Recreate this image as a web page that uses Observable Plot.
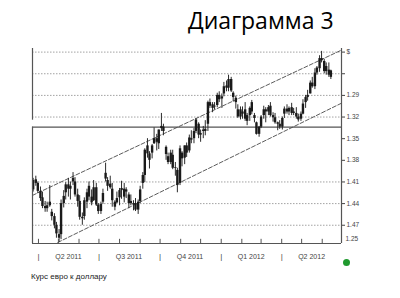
<!DOCTYPE html>
<html>
<head>
<meta charset="utf-8">
<script src="https://cdn.jsdelivr.net/npm/d3@7"></script>
<script src="https://cdn.jsdelivr.net/npm/@observablehq/plot@0.6"></script>
<style>
  html, body { margin: 0; padding: 0; background: #fff; }
  #wrap { width: 400px; height: 298px; overflow: hidden; }
  #title { height: 40px; line-height: 40px; padding-left: 188px; font-family: "Open Sans", sans-serif; font-size: 23px; color: #000; white-space: nowrap; }
  #chart svg { display: block; }
  #caption { height: 18px; line-height: 18px; padding-left: 31px; font-family: "Liberation Sans", Arial, sans-serif; font-size: 8px; color: #222; }
</style>
</head>
<body>
<div id="wrap">
  <div id="title">Диаграмма 3</div>
  <div id="chart"></div>
  <div id="caption">Курс евро к доллару</div>
</div>
<script>
// Bar dates (twice-weekly bars)
const dates = [
  "2011-03-24","2011-03-28","2011-03-31","2011-04-04","2011-04-07","2011-04-11","2011-04-14","2011-04-18","2011-04-21","2011-04-25",
  "2011-04-28","2011-05-02","2011-05-05","2011-05-09","2011-05-12","2011-05-16","2011-05-19","2011-05-23","2011-05-26","2011-05-30",
  "2011-06-02","2011-06-06","2011-06-09","2011-06-13","2011-06-16","2011-06-20","2011-06-23","2011-06-27","2011-06-30","2011-07-04",
  "2011-07-07","2011-07-11","2011-07-14","2011-07-18","2011-07-21","2011-07-25","2011-07-28","2011-08-01","2011-08-04","2011-08-08",
  "2011-08-11","2011-08-15","2011-08-18","2011-08-22","2011-08-25","2011-08-29","2011-09-01","2011-09-05","2011-09-08","2011-09-12",
  "2011-09-15","2011-09-19","2011-09-22","2011-09-26","2011-09-29","2011-10-03","2011-10-06","2011-10-10","2011-10-13","2011-10-17",
  "2011-10-20","2011-10-24","2011-10-27","2011-10-31","2011-11-03","2011-11-07","2011-11-10","2011-11-14","2011-11-17","2011-11-21",
  "2011-11-24","2011-11-28","2011-12-01","2011-12-05","2011-12-08","2011-12-12","2011-12-15","2011-12-19","2011-12-22","2011-12-26",
  "2011-12-29","2012-01-02","2012-01-05","2012-01-09","2012-01-12","2012-01-16","2012-01-19","2012-01-23","2012-01-26","2012-01-30",
  "2012-02-02","2012-02-06","2012-02-09","2012-02-13","2012-02-16","2012-02-20","2012-02-23","2012-02-27","2012-03-01","2012-03-05",
  "2012-03-08","2012-03-12","2012-03-15","2012-03-19","2012-03-22","2012-03-26","2012-03-29","2012-04-02","2012-04-05","2012-04-09",
  "2012-04-12","2012-04-16","2012-04-19","2012-04-23","2012-04-26","2012-04-30","2012-05-03","2012-05-07","2012-05-10","2012-05-14",
  "2012-05-17","2012-05-21","2012-05-24","2012-05-28","2012-05-31","2012-06-04","2012-06-07","2012-06-11","2012-06-14"
];
const opens = [
  1.421,1.407,1.412,1.423,1.432,1.444,1.447,1.443,1.452,1.458,
  1.470,1.483,1.483,1.440,1.425,1.414,1.420,1.405,1.410,1.428,
  1.437,1.459,1.458,1.438,1.416,1.431,1.436,1.418,1.442,1.451,
  1.438,1.406,1.408,1.413,1.420,1.438,1.433,1.432,1.422,1.420,
  1.421,1.428,1.437,1.440,1.440,1.449,1.437,1.412,1.401,1.360,
  1.371,1.370,1.357,1.350,1.357,1.336,1.334,1.362,1.375,1.383,
  1.373,1.391,1.394,1.412,1.370,1.377,1.360,1.367,1.350,1.350,
  1.340,1.330,1.345,1.338,1.340,1.330,1.300,1.303,1.305,1.304,
  1.290,1.295,1.288,1.277,1.280,1.268,1.287,1.294,1.310,1.320,
  1.313,1.310,1.326,1.318,1.300,1.318,1.328,1.344,1.334,1.318,
  1.310,1.313,1.305,1.318,1.321,1.328,1.330,1.334,1.316,1.309,
  1.313,1.307,1.313,1.315,1.320,1.323,1.316,1.300,1.293,1.288,
  1.273,1.278,1.259,1.253,1.239,1.243,1.257,1.262,1.256
];
const highs = [
  1.424,1.416,1.426,1.437,1.447,1.452,1.452,1.445,1.464,1.475,
  1.488,1.494,1.490,1.446,1.435,1.431,1.435,1.415,1.431,1.445,
  1.463,1.470,1.463,1.447,1.436,1.443,1.437,1.444,1.455,1.455,
  1.441,1.410,1.423,1.420,1.445,1.450,1.440,1.443,1.434,1.439,
  1.433,1.447,1.443,1.450,1.451,1.455,1.440,1.420,1.411,1.377,
  1.392,1.378,1.358,1.367,1.365,1.340,1.346,1.380,1.386,1.386,
  1.393,1.402,1.425,1.415,1.389,1.386,1.376,1.370,1.357,1.357,
  1.343,1.350,1.355,1.350,1.346,1.340,1.308,1.314,1.310,1.307,
  1.300,1.308,1.292,1.285,1.285,1.286,1.299,1.309,1.322,1.324,
  1.323,1.326,1.332,1.326,1.317,1.328,1.345,1.348,1.336,1.323,
  1.328,1.318,1.320,1.327,1.330,1.339,1.337,1.338,1.322,1.316,
  1.318,1.318,1.318,1.323,1.327,1.326,1.317,1.308,1.298,1.288,
  1.280,1.282,1.262,1.258,1.245,1.260,1.262,1.265,1.268
];
const lows = [
  1.405,1.402,1.410,1.417,1.424,1.437,1.438,1.415,1.448,1.454,
  1.466,1.476,1.435,1.422,1.411,1.405,1.410,1.397,1.404,1.420,
  1.429,1.453,1.432,1.420,1.410,1.421,1.408,1.412,1.440,1.438,
  1.420,1.384,1.404,1.402,1.412,1.436,1.424,1.419,1.409,1.412,
  1.418,1.425,1.428,1.436,1.433,1.435,1.416,1.397,1.364,1.350,
  1.368,1.358,1.335,1.344,1.338,1.315,1.330,1.360,1.370,1.366,
  1.366,1.383,1.391,1.360,1.368,1.360,1.356,1.345,1.339,1.336,
  1.322,1.328,1.338,1.333,1.325,1.298,1.295,1.300,1.300,1.287,
  1.285,1.288,1.272,1.270,1.262,1.265,1.285,1.291,1.303,1.306,
  1.306,1.300,1.315,1.306,1.297,1.315,1.327,1.333,1.318,1.305,
  1.307,1.304,1.300,1.314,1.315,1.327,1.325,1.320,1.306,1.303,
  1.306,1.301,1.308,1.307,1.316,1.313,1.296,1.290,1.283,1.270,
  1.265,1.253,1.250,1.235,1.229,1.240,1.245,1.245,1.255
];
const closes = [
  1.408,1.412,1.423,1.433,1.444,1.447,1.443,1.438,1.458,1.470,
  1.482,1.488,1.440,1.430,1.414,1.420,1.416,1.410,1.428,1.437,
  1.459,1.461,1.436,1.425,1.431,1.439,1.418,1.442,1.451,1.441,
  1.426,1.398,1.416,1.418,1.436,1.445,1.439,1.422,1.419,1.431,
  1.424,1.440,1.440,1.442,1.449,1.438,1.421,1.401,1.366,1.371,
  1.380,1.360,1.350,1.355,1.338,1.333,1.340,1.372,1.383,1.370,
  1.391,1.390,1.415,1.364,1.378,1.360,1.370,1.349,1.352,1.340,
  1.324,1.345,1.343,1.340,1.337,1.300,1.305,1.308,1.306,1.290,
  1.296,1.292,1.278,1.280,1.268,1.284,1.293,1.300,1.320,1.310,
  1.316,1.323,1.318,1.308,1.313,1.322,1.344,1.334,1.320,1.310,
  1.313,1.307,1.318,1.321,1.328,1.330,1.334,1.322,1.309,1.313,
  1.308,1.315,1.315,1.320,1.324,1.316,1.302,1.293,1.290,1.273,
  1.278,1.259,1.252,1.239,1.242,1.257,1.250,1.255,1.265
];

// Axis / reference values
const xDomain = ["2011-03-23", "2012-06-30"];
const yDomain = [1.225, 1.4953];
const yTicks = [1.23, 1.26, 1.29, 1.32, 1.35, 1.38, 1.41, 1.44, 1.47];
const yTickLabels = ["$", "", "1.29", "1.32", "1.35", "1.38", "1.41", "1.44", "1.47"];
const gridLevels = [1.23, 1.26, 1.29, 1.32, 1.41, 1.44, 1.47];
const boxLevel = 1.334;
const monthTicks = ["2011-04-01","2011-05-01","2011-06-01","2011-07-01","2011-08-01","2011-09-01","2011-10-01","2011-11-01","2011-12-01","2012-01-01","2012-02-01","2012-03-01","2012-04-01","2012-05-01","2012-06-01"];
const quarterStarts = ["2011-04-01","2011-07-01","2011-10-01","2012-01-01","2012-04-01"];
const quarterMids = ["2011-05-16","2011-08-15","2011-11-15","2012-02-15","2012-05-16"];
const quarterLabels = ["Q2 2011","Q3 2011","Q4 2011","Q1 2012","Q2 2012"];
const upperChannelDates = ["2011-03-23", "2012-06-30"];
const upperChannelValues = [1.4286, 1.2272];
const lowerChannelDates = ["2011-04-30", "2012-06-30"];
const lowerChannelValues = [1.4939, 1.3008];
const lastPriceLabel = "1.25";

const D = s => new Date(s);
const bars = dates.map((d, i) => ({date: D(d), o: opens[i], h: highs[i], l: lows[i], c: closes[i]}));
const upper = upperChannelDates.map((d, i) => ({date: D(d), v: upperChannelValues[i]}));
const lower = lowerChannelDates.map((d, i) => ({date: D(d), v: lowerChannelValues[i]}));
const xs = D(xDomain[0]), xe = D(xDomain[1]);

const chart = Plot.plot({
  width: 400,
  height: 228,
  marginTop: 8,
  marginBottom: 25,
  marginLeft: 32,
  marginRight: 59,
  style: {fontFamily: "'Liberation Sans', Arial, sans-serif", fontSize: "7px", background: "#fff", color: "#333"},
  x: {type: "utc", domain: [xs, xe], axis: null},
  y: {domain: yDomain, reverse: true, axis: null},
  marks: [
    Plot.ruleY(gridLevels, {stroke: "#8c8c8c", strokeWidth: 0.8, strokeDasharray: "1.5,1.5"}),
    Plot.ruleY([boxLevel], {stroke: "#555", strokeWidth: 1.2}),
    Plot.line(upper, {x: "date", y: "v", stroke: "#4a4a4a", strokeWidth: 0.9, strokeDasharray: "4,2"}),
    Plot.line(lower, {x: "date", y: "v", stroke: "#4a4a4a", strokeWidth: 0.9, strokeDasharray: "4,2"}),
    Plot.ruleX(bars, {x: "date", y1: "l", y2: "h", stroke: "#2a2a2a", strokeWidth: 1}),
    Plot.ruleX(bars, {x: "date", y1: "o", y2: "c", stroke: "#1a1a1a", strokeWidth: 2.4}),
    // frame
    Plot.ruleX([xs], {y1: yDomain[0], y2: 1.3244, stroke: "#555", strokeWidth: 1.2}),
    Plot.ruleX([xs], {y1: boxLevel, y2: yDomain[1], stroke: "#555", strokeWidth: 1.2}),
    Plot.ruleX([xe], {y1: yDomain[0], y2: yDomain[1], stroke: "#555", strokeWidth: 1.2}),
    Plot.ruleY([yDomain[1]], {stroke: "#555", strokeWidth: 1.2}),
    // month ticks
    Plot.ruleX(monthTicks.map(D), {y1: yDomain[1], y2: 1.4895, stroke: "#555", strokeWidth: 1}),
    // quarter labels and separators
    Plot.text(quarterMids.map(D), {x: d => d, text: (d, i) => quarterLabels[i], frameAnchor: "bottom", dy: 15, fontSize: 7, fill: "#444"}),
    Plot.text(quarterStarts.map(D), {x: d => d, text: () => "|", frameAnchor: "bottom", dy: 15, fontSize: 8, fill: "#444"}),
    // right axis
    Plot.axisY(yTicks, {anchor: "right", tickSize: 3, tickPadding: 2, tickFormat: (d, i) => yTickLabels[yTicks.indexOf(d)], fontSize: 6.5, color: "#444", label: null}),
    Plot.text([lastPriceLabel], {text: d => d, frameAnchor: "bottom-right", dx: 4, dy: -3, textAnchor: "start", fontSize: 6.5, fill: "#444", ariaLabel: "price-tag"}),
    Plot.dot([0], {frameAnchor: "bottom-right", dx: 5, dy: 19, r: 3.5, fill: "#1f9a2e"})
  ]
});
document.getElementById("chart").appendChild(chart);
d3.select(chart).selectAll('g[aria-label="price-tag"] text').style("text-decoration", "underline");
</script>
</body>
</html>
